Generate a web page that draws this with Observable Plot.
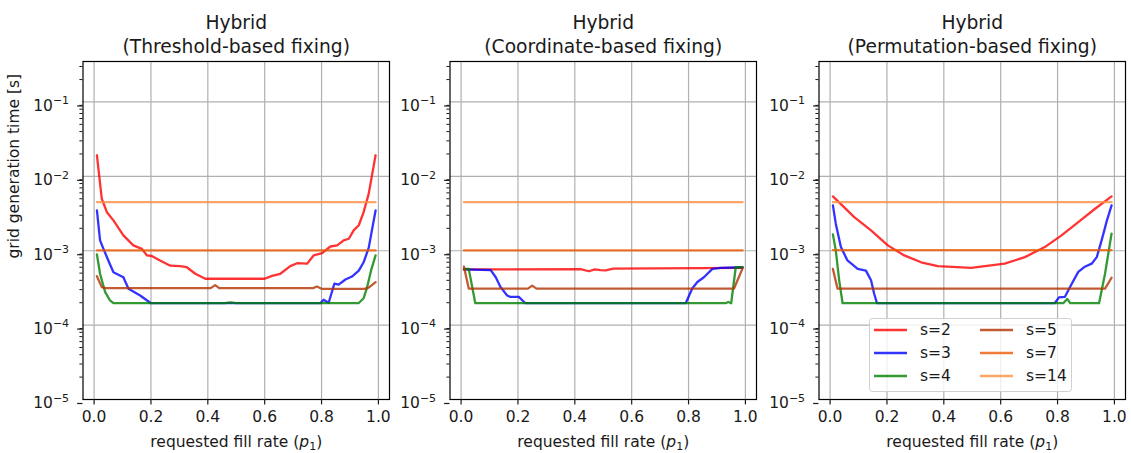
<!DOCTYPE html>
<html>
<head>
<meta charset="utf-8">
<script src="https://cdn.jsdelivr.net/npm/d3@7"></script>
<script src="https://cdn.jsdelivr.net/npm/@observablehq/plot@0.6"></script>
<style>
  body { margin: 0; background: white; }
  #fig { position: relative; width: 1131px; height: 453px; overflow: hidden; font-family: "DejaVu Sans", sans-serif; }
  #fig svg { position: absolute; top: 0; }
</style>
</head>
<body>
<div id="fig"></div>
<script>
// ---- series labels and colours ----
const seriesLabels = ["s=2", "s=3", "s=4", "s=5", "s=7", "s=14"];
const seriesColors = ["#ff0000", "#0000ff", "#008000", "#b33200", "#ec5a04", "#fc8d41"];

// ---- axis ticks ----
const fillRateTicks = [0, 0.2, 0.4, 0.6, 0.8, 1.0];
const timeDecades = [1e-5, 1e-4, 1e-3, 1e-2, 1e-1];

// ---- titles and labels ----
const panelTitles = [
  ["Hybrid", "(Threshold-based fixing)"],
  ["Hybrid", "(Coordinate-based fixing)"],
  ["Hybrid", "(Permutation-based fixing)"]
];
const xLabel = "requested fill rate (p1)";
const yLabel = "grid generation time [s]";

// ---- Threshold-based fixing: [fill rate, time in s] ----
const thresholdS2 = [[0.01,1.92e-2],[0.027,5.0e-3],[0.045,3.3e-3],[0.068,2.56e-3],[0.103,1.61e-3],[0.138,1.18e-3],[0.168,1.06e-3],[0.186,8.65e-4],[0.203,8.5e-4],[0.232,7.4e-4],[0.268,6.3e-4],[0.303,6.2e-4],[0.326,6.0e-4],[0.356,4.9e-4],[0.391,4.2e-4],[0.6,4.2e-4],[0.626,4.6e-4],[0.655,4.9e-4],[0.69,6.2e-4],[0.714,6.8e-4],[0.749,6.7e-4],[0.772,8.65e-4],[0.802,9.3e-4],[0.831,1.14e-3],[0.855,1.18e-3],[0.878,1.38e-3],[0.896,1.45e-3],[0.913,1.88e-3],[0.931,2.2e-3],[0.948,3.3e-3],[0.966,5.85e-3],[0.99,1.92e-2]];
const thresholdS3 = [[0.01,3.48e-3],[0.021,1.38e-3],[0.033,1.06e-3],[0.05,7.4e-4],[0.068,5.15e-4],[0.103,4.4e-4],[0.121,3.08e-4],[0.162,2.5e-4],[0.2,1.97e-4],[0.796,1.97e-4],[0.807,2.2e-4],[0.825,2.0e-4],[0.845,3.6e-4],[0.86,3.5e-4],[0.884,4.1e-4],[0.907,4.5e-4],[0.931,5.4e-4],[0.948,7.0e-4],[0.966,1.1e-3],[0.99,3.48e-3]];
const thresholdS4 = [[0.01,8.9e-4],[0.021,4.9e-4],[0.039,2.77e-4],[0.056,2.15e-4],[0.068,1.97e-4],[0.46,1.97e-4],[0.48,2.02e-4],[0.5,1.97e-4],[0.93,1.97e-4],[0.948,2.3e-4],[0.96,3.2e-4],[0.974,5.4e-4],[0.99,8.65e-4]];
const thresholdS5 = [[0.01,4.55e-4],[0.027,3.24e-4],[0.04,3.14e-4],[0.41,3.14e-4],[0.426,3.45e-4],[0.44,3.14e-4],[0.77,3.14e-4],[0.784,3.3e-4],[0.8,3.08e-4],[0.95,3.08e-4],[0.966,3.2e-4],[0.99,3.78e-4]];
const thresholdS7 = [[0.01,1.01e-3],[0.5,1.01e-3],[0.99,1.01e-3]];
const thresholdS14 = [[0.01,4.51e-3],[0.5,4.51e-3],[0.99,4.51e-3]];

// ---- Coordinate-based fixing ----
const coordinateS2 = [[0.01,5.6e-4],[0.42,5.65e-4],[0.45,5.3e-4],[0.47,5.6e-4],[0.49,5.5e-4],[0.509,5.45e-4],[0.535,5.75e-4],[0.99,5.9e-4]];
const coordinateS3 = [[0.01,5.6e-4],[0.104,5.5e-4],[0.122,4.4e-4],[0.139,3.24e-4],[0.162,2.5e-4],[0.173,2.4e-4],[0.203,2.4e-4],[0.226,1.97e-4],[0.79,1.97e-4],[0.813,3.1e-4],[0.831,3.8e-4],[0.854,4.4e-4],[0.884,5.7e-4],[0.913,5.9e-4],[0.99,6.0e-4]];
const coordinateS4 = [[0.01,5.7e-4],[0.027,5.7e-4],[0.05,1.97e-4],[0.93,1.97e-4],[0.94,2.05e-4],[0.95,1.97e-4],[0.966,6.0e-4],[0.99,6.0e-4]];
const coordinateS5 = [[0.01,6.1e-4],[0.027,3.1e-4],[0.235,3.1e-4],[0.25,3.4e-4],[0.265,3.1e-4],[0.96,3.1e-4],[0.99,5.8e-4]];
const coordinateS7 = [[0.01,1.01e-3],[0.5,1.01e-3],[0.99,1.01e-3]];
const coordinateS14 = [[0.01,4.5e-3],[0.5,4.5e-3],[0.99,4.5e-3]];

// ---- Permutation-based fixing ----
const permutationS2 = [[0.01,5.38e-3],[0.085,2.83e-3],[0.144,1.88e-3],[0.203,1.18e-3],[0.261,8.65e-4],[0.32,7.0e-4],[0.379,6.2e-4],[0.496,5.9e-4],[0.614,6.7e-4],[0.685,8.2e-4],[0.755,1.12e-3],[0.814,1.61e-3],[0.873,2.43e-3],[0.932,3.67e-3],[0.99,5.38e-3]];
const permutationS3 = [[0.01,4.07e-3],[0.02,2.31e-3],[0.038,1.12e-3],[0.061,7.4e-4],[0.097,5.7e-4],[0.126,5.4e-4],[0.144,4.0e-4],[0.155,2.64e-4],[0.165,1.97e-4],[0.79,1.97e-4],[0.805,2.36e-4],[0.826,2.4e-4],[0.85,3.6e-4],[0.873,5.2e-4],[0.896,6.1e-4],[0.92,6.7e-4],[0.938,8.2e-4],[0.955,1.38e-3],[0.973,2.5e-3],[0.99,4.07e-3]];
const permutationS4 = [[0.01,1.66e-3],[0.02,1.01e-3],[0.032,4.0e-4],[0.044,1.97e-4],[0.82,1.97e-4],[0.834,2.25e-4],[0.845,1.97e-4],[0.946,1.97e-4],[0.967,4.9e-4],[0.99,1.7e-3]];
const permutationS5 = [[0.01,5.7e-4],[0.026,3.1e-4],[0.967,3.1e-4],[0.99,4.33e-4]];
const permutationS7 = [[0.01,1.02e-3],[0.5,1.02e-3],[0.99,1.02e-3]];
const permutationS14 = [[0.01,4.5e-3],[0.5,4.5e-3],[0.99,4.5e-3]];

const panelSeries = [
  [thresholdS2, thresholdS3, thresholdS4, thresholdS5, thresholdS7, thresholdS14],
  [coordinateS2, coordinateS3, coordinateS4, coordinateS5, coordinateS7, coordinateS14],
  [permutationS2, permutationS3, permutationS4, permutationS5, permutationS7, permutationS14]
];

// long-format rows for Plot
function rowsFor(seriesList) {
  return seriesList.flatMap((pts, k) => pts.map(([p, t]) => ({p, t, s: seriesLabels[k]})));
}

// minor log ticks (2..9 × each decade) below the top of the axis
const yTop = 0.35;
const minorTicks = timeDecades.flatMap(d => d3.range(2, 10).map(m => m * d)).filter(v => v < yTop);

function decadeLabel(v) {
  const e = Math.round(Math.log10(v));
  return "10^" + String(e).replace("-", "\u2212");
}

const fs = 15.5;       // tick / axis-label size
const titleFs = 18.7;  // panel title size
const fig = document.getElementById("fig");
const frameLeft = 82.5, frameWidth = 306.5;
const svgLefts = [0, 367, 736];
const rightMargins = [10, 10, 5];
const grid = {stroke: "#b0b0b0", strokeOpacity: 1, strokeWidth: 1.2};

panelSeries.forEach((seriesList, i) => {
  const marks = [
    Plot.gridX(fillRateTicks, grid),
    Plot.gridY(timeDecades, grid),
    Plot.line(rowsFor(seriesList), {x: "p", y: "t", z: "s", stroke: "s", strokeWidth: 2.3, strokeOpacity: 0.8}),
    Plot.frame({stroke: "black", strokeWidth: 1.2}),
    Plot.axisX(fillRateTicks, {tickSize: 5.4, tickPadding: 6.5, tickFormat: d3.format(".1f"), fontSize: fs, label: null, strokeWidth: 1.2}),
    Plot.axisY(timeDecades, {tickSize: 5.4, tickPadding: 8.5, tickFormat: decadeLabel, fontSize: fs, label: null, dy: 4, strokeWidth: 1.2}),
    Plot.axisY(minorTicks, {tickSize: 3.1, tickFormat: () => "", label: null, strokeWidth: 1}),
    Plot.text([panelTitles[i][0]], {text: d => d, frameAnchor: "top", lineAnchor: "middle", dy: -38, fontSize: titleFs}),
    Plot.text([panelTitles[i][1]], {text: d => d, frameAnchor: "top", lineAnchor: "middle", dy: -14, fontSize: titleFs}),
    Plot.text([xLabel], {text: d => d, frameAnchor: "bottom", lineAnchor: "middle", dy: 43, fontSize: fs})
  ];
  if (i === 0) {
    // rotated axis title, its start (the "g" of "grid") near the 10^-3 level
    marks.push(Plot.text([yLabel], {text: d => d, frameAnchor: "left", textAnchor: "start", lineAnchor: "middle", rotate: -90, dx: -68.5, dy: 28, fontSize: fs}));
  }
  const chart = Plot.plot({
    width: frameLeft + frameWidth + rightMargins[i],
    height: 453,
    marginLeft: frameLeft,
    marginRight: rightMargins[i],
    marginTop: 61,
    marginBottom: 54,
    x: {domain: [-0.039, 1.039], label: null},
    y: {type: "log", domain: [1e-5, yTop], label: null},
    color: {domain: seriesLabels, range: seriesColors},
    style: {background: "transparent", overflow: "visible", fontFamily: "DejaVu Sans", color: "#1a1a1a"},
    marks
  });
  chart.style.left = svgLefts[i] + "px";

  // decade labels: 10 with a raised exponent; x title with italic p and subscript 1
  d3.select(chart).selectAll("text").each(function () {
    const s = this.textContent;
    if (s.startsWith("10^")) {
      const exp = s.slice(3);
      const t = d3.select(this);
      t.text("");
      t.append("tspan").text("10");
      t.append("tspan").attr("font-size", 11).attr("dy", "-0.6em").text(exp);
    } else if (s === xLabel) {
      const t = d3.select(this);
      t.text("");
      t.append("tspan").text("requested fill rate (");
      t.append("tspan").attr("font-style", "italic").text("p");
      t.append("tspan").attr("font-size", 11).attr("dy", "0.25em").text("1");
      t.append("tspan").attr("dy", "-0.18em").text(")");
    }
  });
  fig.append(chart);
});

// legend inside the third panel
const legend = d3.select(fig).append("svg")
  .attr("width", 205).attr("height", 76)
  .style("left", "868px").style("top", "317px");
legend.append("rect")
  .attr("x", 1.5).attr("y", 1.5).attr("width", 202).attr("height", 73)
  .attr("rx", 3).attr("fill", "white").attr("fill-opacity", 0.8)
  .attr("stroke", "#d0d0d0").attr("stroke-width", 1);
seriesLabels.forEach((lab, k) => {
  const col = Math.floor(k / 3), row = k % 3;
  const x0 = 6 + col * 106, y0 = 13 + row * 23;
  legend.append("line")
    .attr("x1", x0).attr("x2", x0 + 33).attr("y1", y0).attr("y2", y0)
    .attr("stroke", seriesColors[k]).attr("stroke-opacity", 0.8).attr("stroke-width", 2.3);
  legend.append("text")
    .attr("x", x0 + 46).attr("y", y0).attr("dy", "0.35em")
    .attr("font-family", "DejaVu Sans").attr("font-size", fs).attr("fill", "#1a1a1a")
    .text(lab);
});
</script>
</body>
</html>
